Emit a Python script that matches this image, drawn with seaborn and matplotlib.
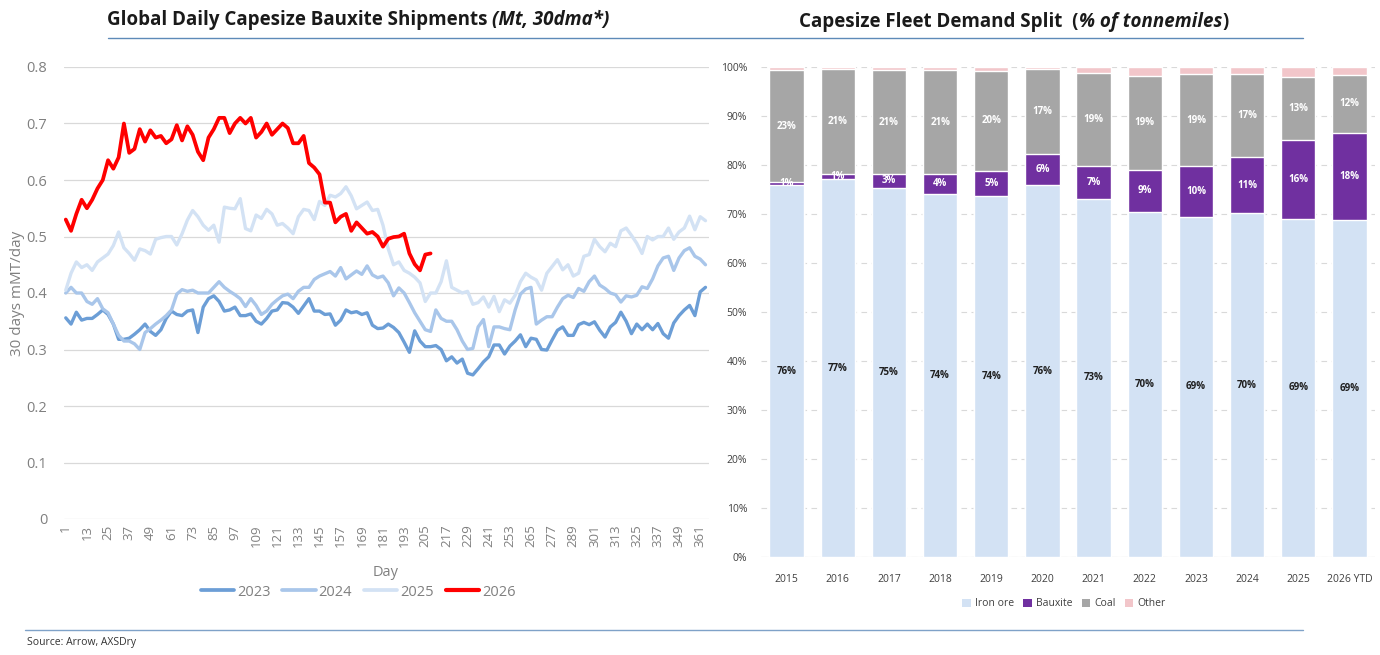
import matplotlib
matplotlib.use("Agg")
import numpy as np
import pandas as pd
import matplotlib.pyplot as plt
import seaborn as sns
from matplotlib.lines import Line2D
from matplotlib.patches import Patch

sns.set_theme(style="white")
plt.rcParams['font.family'] = ['Open Sans', 'DejaVu Sans']

# ---------------- Left chart data: 30dma daily bauxite shipments (every 3rd day) ----------------
DAY_STEP = 3
s2023 = [0.356, 0.345, 0.366, 0.352, 0.355, 0.355, 0.362, 0.370, 0.362, 0.345,
         0.318, 0.318, 0.320, 0.327, 0.335, 0.345, 0.332, 0.325, 0.335, 0.355,
         0.368, 0.362, 0.360, 0.368, 0.370, 0.330, 0.375, 0.390, 0.395, 0.385,
         0.368, 0.370, 0.375, 0.360, 0.360, 0.363, 0.350, 0.345, 0.355, 0.368,
         0.370, 0.383, 0.382, 0.375, 0.364, 0.377, 0.390, 0.368, 0.368, 0.362,
         0.363, 0.343, 0.352, 0.370, 0.365, 0.367, 0.362, 0.365, 0.343, 0.337,
         0.338, 0.345, 0.339, 0.330, 0.313, 0.295, 0.333, 0.315, 0.305, 0.305,
         0.307, 0.300, 0.280, 0.287, 0.276, 0.283, 0.258, 0.255, 0.266, 0.278,
         0.287, 0.308, 0.308, 0.292, 0.306, 0.315, 0.326, 0.305, 0.320, 0.318,
         0.300, 0.299, 0.317, 0.334, 0.340, 0.325, 0.325, 0.344, 0.348, 0.344,
         0.349, 0.334, 0.322, 0.340, 0.348, 0.366, 0.350, 0.328, 0.345, 0.335,
         0.345, 0.335, 0.346, 0.328, 0.320, 0.347, 0.360, 0.370, 0.378, 0.360,
         0.402, 0.410]
s2024 = [0.400, 0.410, 0.400, 0.400, 0.385, 0.380, 0.390, 0.372, 0.365, 0.345,
         0.325, 0.315, 0.315, 0.310, 0.300, 0.330, 0.337, 0.345, 0.352, 0.360,
         0.370, 0.398, 0.406, 0.403, 0.405, 0.400, 0.400, 0.400, 0.410, 0.420,
         0.410, 0.403, 0.397, 0.390, 0.376, 0.390, 0.378, 0.362, 0.368, 0.380,
         0.388, 0.395, 0.398, 0.390, 0.403, 0.410, 0.410, 0.424, 0.430, 0.434,
         0.438, 0.430, 0.445, 0.425, 0.432, 0.439, 0.433, 0.448, 0.432, 0.427,
         0.430, 0.418, 0.395, 0.409, 0.400, 0.383, 0.365, 0.350, 0.335, 0.332,
         0.370, 0.355, 0.350, 0.350, 0.335, 0.315, 0.300, 0.302, 0.340, 0.353,
         0.305, 0.340, 0.340, 0.337, 0.335, 0.370, 0.398, 0.407, 0.410, 0.345,
         0.352, 0.358, 0.358, 0.375, 0.390, 0.396, 0.392, 0.408, 0.403, 0.420,
         0.430, 0.414, 0.408, 0.400, 0.397, 0.384, 0.395, 0.393, 0.396, 0.411,
         0.408, 0.425, 0.448, 0.462, 0.465, 0.440, 0.462, 0.475, 0.480, 0.465,
         0.460, 0.450]
s2025 = [0.405, 0.435, 0.455, 0.445, 0.450, 0.440, 0.455, 0.462, 0.469, 0.484,
         0.508, 0.480, 0.470, 0.458, 0.478, 0.475, 0.469, 0.495, 0.498, 0.500,
         0.500, 0.485, 0.505, 0.529, 0.546, 0.535, 0.520, 0.511, 0.520, 0.490,
         0.552, 0.550, 0.549, 0.567, 0.514, 0.510, 0.538, 0.532, 0.548, 0.540,
         0.520, 0.523, 0.515, 0.505, 0.535, 0.548, 0.546, 0.530, 0.562, 0.555,
         0.573, 0.570, 0.576, 0.588, 0.572, 0.549, 0.555, 0.561, 0.546, 0.548,
         0.520, 0.478, 0.450, 0.455, 0.440, 0.435, 0.428, 0.418, 0.385, 0.400,
         0.400, 0.420, 0.457, 0.410, 0.405, 0.400, 0.403, 0.380, 0.383, 0.393,
         0.375, 0.394, 0.367, 0.388, 0.382, 0.396, 0.420, 0.435, 0.428, 0.423,
         0.405, 0.435, 0.447, 0.459, 0.441, 0.450, 0.430, 0.435, 0.465, 0.468,
         0.495, 0.482, 0.473, 0.488, 0.482, 0.510, 0.515, 0.502, 0.488, 0.470,
         0.500, 0.494, 0.500, 0.500, 0.515, 0.495, 0.508, 0.515, 0.536, 0.512,
         0.535, 0.528]
s2026 = [0.530, 0.510, 0.540, 0.565, 0.550, 0.565, 0.585, 0.600, 0.635, 0.620,
         0.640, 0.700, 0.648, 0.655, 0.690, 0.668, 0.688, 0.675, 0.678, 0.665,
         0.672, 0.697, 0.670, 0.695, 0.680, 0.650, 0.635, 0.675, 0.690, 0.710,
         0.710, 0.683, 0.700, 0.710, 0.700, 0.710, 0.675, 0.685, 0.700, 0.680,
         0.690, 0.700, 0.692, 0.665, 0.665, 0.678, 0.630, 0.622, 0.610, 0.560,
         0.560, 0.525, 0.535, 0.540, 0.510, 0.525, 0.515, 0.505, 0.508, 0.500,
         0.482, 0.496, 0.499, 0.500, 0.505, 0.470, 0.451, 0.440, 0.468, 0.470]
series_years = ["2023", "2024", "2025", "2026"]
series_values = [s2023, s2024, s2025, s2026]
x_tick_days = list(range(1, 362, 12))

# ---------------- Right chart data: % of tonnemiles ----------------
bar_years = ["2015", "2016", "2017", "2018", "2019", "2020", "2021", "2022",
             "2023", "2024", "2025", "2026 YTD"]
iron_ore = [75.9, 77.1, 75.3, 74.1, 73.7, 75.9, 73.1, 70.4, 69.4, 70.2, 69.0, 68.8]
bauxite = [0.6, 1.1, 2.9, 4.1, 5.1, 6.4, 6.6, 8.6, 10.4, 11.4, 16.1, 17.7]
coal = [22.8, 21.3, 21.1, 21.1, 20.4, 17.2, 19.1, 19.2, 18.7, 16.9, 12.9, 11.9]
other = [0.7, 0.5, 0.7, 0.7, 0.8, 0.5, 1.2, 1.8, 1.5, 1.5, 2.0, 1.6]

# ---------------- Styles ----------------
W, H = 1380, 655
line_colors = {"2023": "#6C9ED6", "2024": "#A9C6EA", "2025": "#D3E2F4", "2026": "#FF0000"}
line_widths = {"2023": 2.4, "2024": 2.4, "2025": 2.4, "2026": 2.7}
bar_colors = {"Iron ore": "#D3E2F4", "Bauxite": "#7030A0", "Coal": "#A6A6A6", "Other": "#F2C6CA"}
grey_txt = "#808080"

fig = plt.figure(figsize=(W / 100, H / 100), dpi=100)

def fx(px):
    return px / W

def fy(py):
    return 1 - py / H

# ---------------- Left chart ----------------
ax1 = fig.add_axes([fx(64), fy(519), fx(709) - fx(64), fy(67) - fy(519)])
frames = []
for yr, vals in zip(series_years, series_values):
    days = np.arange(1, 1 + DAY_STEP * len(vals), DAY_STEP)
    frames.append(pd.DataFrame({"day": days, "value": vals, "year": yr}))
df_lines = pd.concat(frames, ignore_index=True)
for yr in series_years:
    sub = df_lines[df_lines["year"] == yr]
    sns.lineplot(data=sub, x="day", y="value", color=line_colors[yr],
                 linewidth=line_widths[yr], ax=ax1, legend=False, errorbar=None)

ax1.set_xlim(0, 366)
ax1.set_ylim(0, 0.8)
ax1.set_yticks(np.arange(0, 0.81, 0.1))
ax1.set_yticklabels(["0"] + [f"{v:.1f}" for v in np.arange(0.1, 0.81, 0.1)])
ax1.set_xticks(x_tick_days)
ax1.set_xticklabels([str(d) for d in x_tick_days], rotation=90)
ax1.tick_params(axis="y", length=0, pad=12, labelsize=10.5, labelcolor=grey_txt)
ax1.tick_params(axis="x", length=0, pad=4, labelsize=9.5, labelcolor=grey_txt)
ax1.grid(axis="y", color="#D9D9D9", linewidth=0.9)
ax1.grid(axis="x", visible=False)
for s in ax1.spines.values():
    s.set_visible(False)
ax1.set_xlabel("")
ax1.set_ylabel("30 days mMT/day", fontsize=11, color=grey_txt, labelpad=1)
fig.text(fx(386), fy(572), "Day", ha="center", va="center", fontsize=10.5, color=grey_txt)

handles = [Line2D([0], [0], color=line_colors[y], lw=line_widths[y] + 0.3) for y in series_years]
fig.legend(handles, series_years, loc="center", bbox_to_anchor=(fx(358), fy(592)), ncol=4,
           frameon=False, fontsize=10.5, labelcolor=grey_txt, handlelength=2.3,
           columnspacing=0.8, handletextpad=0.2)

# ---------------- Right chart ----------------
ax2 = fig.add_axes([fx(761), fy(557), fx(1375) - fx(761), fy(67) - fy(557)])
df_bars = pd.DataFrame({"year": bar_years, "Iron ore": iron_ore, "Bauxite": bauxite,
                        "Coal": coal, "Other": other})
cats = ["Iron ore", "Bauxite", "Coal", "Other"]
cum = df_bars[cats].cumsum(axis=1)
for c in reversed(cats):
    sns.barplot(x=df_bars["year"], y=cum[c], order=bar_years, color=bar_colors[c],
                saturation=1, width=0.67, errorbar=None, ax=ax2, zorder=3)
ax2.set_xlim(-0.5, len(bar_years) - 0.5)
ax2.set_ylim(0, 100)
ax2.set_yticks(range(0, 101, 10))
ax2.set_yticklabels([f"{v}%" for v in range(0, 101, 10)])
ax2.tick_params(axis="y", length=0, pad=10, labelsize=7.5, labelcolor="#404040")
ax2.tick_params(axis="x", length=0, pad=12, labelsize=7.5, labelcolor="#404040")
ax2.set_xlabel("")
ax2.set_ylabel("")
ax2.grid(axis="y", color="#D9D9D9", linewidth=0.8, linestyle=(0, (5, 4)), zorder=0)
ax2.grid(axis="x", visible=False)
ax2.set_axisbelow(True)
for s in ax2.spines.values():
    s.set_visible(False)
ax2.axhline(0, color="#D9D9D9", lw=0.8, zorder=1)

for i in range(len(bar_years)):
    base = 0.0
    for c, col in [("Iron ore", "#1F1F1F"), ("Bauxite", "white"), ("Coal", "white")]:
        v = df_bars[c].iloc[i]
        ax2.text(i, base + v / 2, f"{v:.0f}%", ha="center", va="center", fontsize=7,
                 fontweight="bold", color=col, zorder=5)
        base += v

leg_handles = [Patch(facecolor=bar_colors[c], edgecolor="none") for c in cats]
fig.legend(leg_handles, cats, loc="center", bbox_to_anchor=(fx(1064), fy(604)), ncol=4,
           frameon=False, fontsize=7.5, labelcolor="#404040", handlelength=0.8,
           handleheight=0.8, columnspacing=0.9, handletextpad=0.4)

# ---------------- Titles, rules, source ----------------
fig.canvas.draw()
rend = fig.canvas.get_renderer()

def run_text(x_px, y_px, parts, size, center=False):
    texts = []
    x = fx(x_px)
    for txt, style in parts:
        t = fig.text(x, fy(y_px), txt, fontsize=size, fontweight="bold", style=style,
                     color="#1A1A1A", ha="left", va="center")
        bb = t.get_window_extent(renderer=rend)
        x = bb.x1 / W
        texts.append(t)
    if center:
        total = x - fx(x_px)
        shift = total / 2
        for t in texts:
            px, py = t.get_position()
            t.set_position((px - shift, py))

run_text(107, 20, [("Global Daily Capesize Bauxite Shipments ", "normal"),
                   ("(Mt, 30dma*)", "italic")], 13.5)
run_text(1014, 22, [("Capesize Fleet Demand Split  (", "normal"),
                    ("% of tonnemiles", "italic"), (")", "normal")], 13.5, center=True)

fig.add_artist(Line2D([fx(108), fx(1303)], [fy(38), fy(38)], color="#5E8AB8", lw=1.0))
fig.add_artist(Line2D([fx(25), fx(1303)], [fy(630), fy(630)], color="#7FA2C8", lw=1.0))
fig.text(fx(27), fy(643), "Source: Arrow, AXSDry", fontsize=7.5, color="#333333",
         ha="left", va="center")

fig.savefig("out.png", dpi=100)
